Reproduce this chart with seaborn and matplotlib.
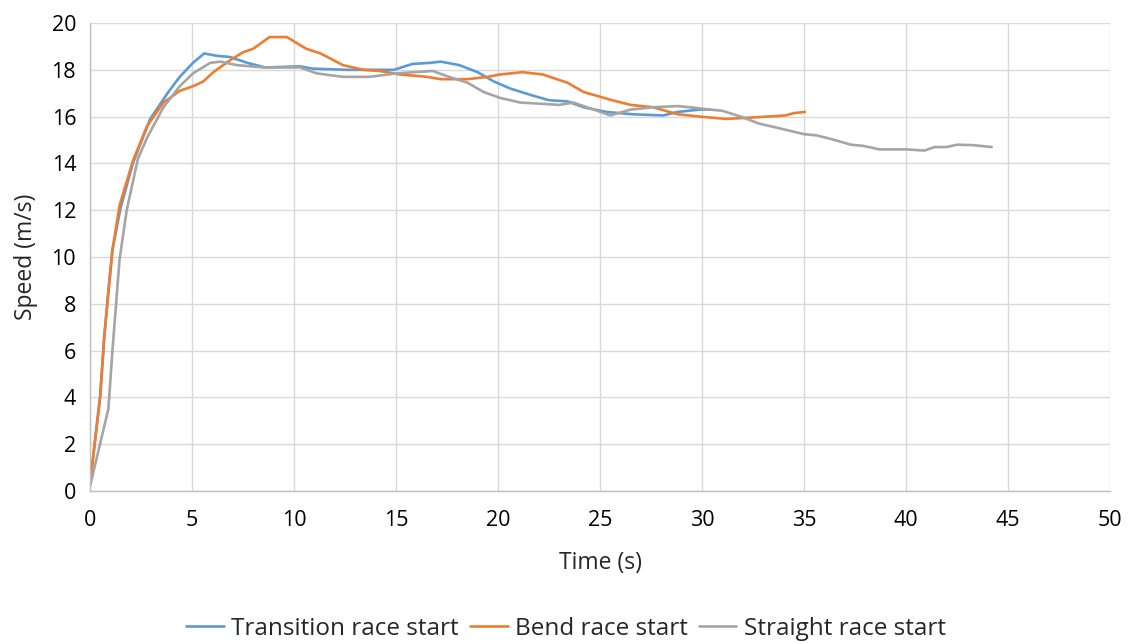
import numpy as np
import pandas as pd
import matplotlib
matplotlib.use("Agg")
import matplotlib.pyplot as plt
import seaborn as sns

# Speed profiles (time in s, speed in m/s) for three race-start positions
transition_t = [0, 0.5, 0.7, 0.9, 1.1, 1.5, 2.1, 2.95, 3.8, 4.4, 5.05, 5.6, 6.2, 6.85, 7.7,
                8.6, 10.3, 10.9, 12.6, 14.9, 15.8, 16.7, 17.2, 18.1, 19.0, 19.8, 20.6, 21.7,
                22.5, 23.4, 24.2, 25.3, 26.6, 28.1, 28.8, 29.9, 30.4]
transition_v = [0.3, 4.1, 6.6, 8.5, 10.3, 12.1, 14.0, 15.9, 17.0, 17.7, 18.3, 18.7, 18.6, 18.55,
                18.3, 18.1, 18.15, 18.05, 18.0, 18.0, 18.25, 18.3, 18.35, 18.2, 17.9, 17.5, 17.2,
                16.9, 16.7, 16.65, 16.4, 16.2, 16.1, 16.05, 16.2, 16.3, 16.3]

bend_t = [0, 0.5, 0.7, 0.9, 1.1, 1.45, 2.1, 2.8, 3.6, 4.4, 5.05, 5.55, 6.05, 6.85, 7.5, 8.0,
          8.8, 9.65, 10.6, 11.3, 12.4, 13.4, 14.2, 15.2, 16.5, 17.2, 18.5, 19.5, 20.1, 21.2,
          22.2, 23.4, 24.2, 25.0, 25.6, 26.5, 27.6, 28.8, 29.9, 31.2, 32.2, 33.2, 34.1, 34.5, 35.05]
bend_v = [0.3, 4.0, 6.6, 8.5, 10.3, 12.2, 14.1, 15.6, 16.6, 17.1, 17.3, 17.5, 17.9, 18.4, 18.75,
          18.9, 19.4, 19.4, 18.9, 18.7, 18.2, 18.0, 17.95, 17.8, 17.7, 17.6, 17.6, 17.7, 17.8,
          17.9, 17.8, 17.45, 17.05, 16.85, 16.7, 16.5, 16.4, 16.1, 16.0, 15.9, 15.95, 16.0,
          16.05, 16.15, 16.2]

straight_t = [0, 0.9, 1.1, 1.45, 1.8, 2.35, 2.8, 3.6, 4.4, 5.05, 5.9, 6.4, 7.2, 8.5, 10.3,
              11.1, 12.4, 13.7, 15.05, 16.8, 17.6, 18.5, 19.3, 20.1, 21.1, 22.1, 23.0, 23.7,
              24.7, 25.5, 26.5, 27.6, 28.8, 29.4, 30.4, 31.0, 31.9, 32.8, 33.8, 35.0, 35.6,
              36.3, 37.3, 37.9, 38.7, 40.0, 40.9, 41.4, 42.0, 42.5, 43.3, 44.2]
straight_v = [0.2, 3.5, 6.0, 9.9, 12.0, 14.2, 15.1, 16.4, 17.3, 17.85, 18.3, 18.35, 18.2, 18.1,
              18.1, 17.85, 17.7, 17.7, 17.85, 17.95, 17.7, 17.45, 17.05, 16.8, 16.6, 16.55,
              16.5, 16.6, 16.3, 16.05, 16.3, 16.4, 16.45, 16.4, 16.3, 16.25, 16.0, 15.7, 15.5,
              15.25, 15.2, 15.05, 14.8, 14.75, 14.6, 14.6, 14.55, 14.7, 14.7, 14.8, 14.78, 14.7]

series_names = ["Transition race start", "Bend race start", "Straight race start"]
series_colors = ["#5B9BD5", "#ED7D31", "#A5A5A5"]

x_ticks = [0, 5, 10, 15, 20, 25, 30, 35, 40, 45, 50]
y_ticks = [0, 2, 4, 6, 8, 10, 12, 14, 16, 18, 20]

frames = []
for name, t, v in zip(series_names, [transition_t, bend_t, straight_t],
                      [transition_v, bend_v, straight_v]):
    frames.append(pd.DataFrame({"Time": t, "Speed": v, "Series": name}))
df = pd.concat(frames, ignore_index=True)

sns.set_theme(style="whitegrid")
plt.rcParams["font.family"] = ["Open Sans", "DejaVu Sans"]

fig = plt.figure(figsize=(11.32, 6.43), dpi=100)
ax = fig.add_axes([0.0795, 0.2364, 0.9011, 0.7278])

sns.lineplot(data=df, x="Time", y="Speed", hue="Series", hue_order=series_names,
             palette=series_colors, linewidth=1.9, sort=False, estimator=None, ax=ax)

ax.set_xlim(0, 50)
ax.set_ylim(0, 20)
ax.set_xticks(x_ticks)
ax.set_yticks(y_ticks)
ax.tick_params(axis="both", labelsize=15.5, length=0, colors="#000000")
ax.tick_params(axis="x", pad=14)
ax.tick_params(axis="y", pad=10)
ax.grid(True, color="#D9D9D9", linewidth=1.0)
for side in ["top", "right"]:
    ax.spines[side].set_visible(False)
for side in ["left", "bottom"]:
    ax.spines[side].set_color("#BFBFBF")
    ax.spines[side].set_linewidth(1.0)

ax.set_xlabel("Time (s)", fontsize=16.5, labelpad=14)
ax.set_ylabel("Speed (m/s)", fontsize=16.5, labelpad=10)

ax.legend_.remove()
handles, labels = ax.get_legend_handles_labels()
fig.legend(handles, labels, loc="center", bbox_to_anchor=(0.5, 0.022), ncol=3,
           frameon=False, fontsize=17.5, handlelength=1.55, handletextpad=0.3,
           columnspacing=0.45)

fig.savefig("out.png", dpi=100, facecolor="white")
